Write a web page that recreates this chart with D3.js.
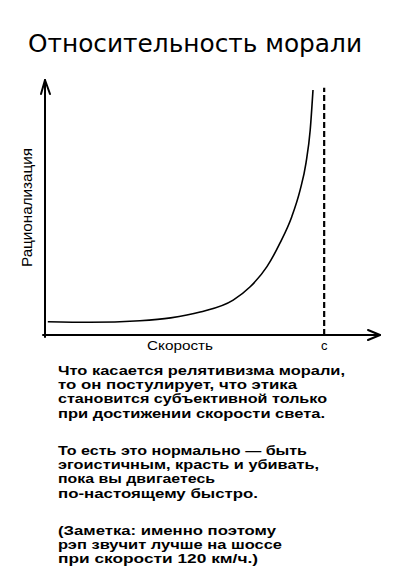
<!DOCTYPE html>
<html><head><meta charset="utf-8">
<script src="https://cdn.jsdelivr.net/npm/d3@7"></script>
<style>html,body{margin:0;padding:0;background:#fff;}svg{display:block;}</style>
</head><body>
<script>
const title = "Относительность морали";
const xLabel = "Скорость";
const yLabel = "Рационализация";
const cLabel = "c";
// speed as fraction of c, rationalization (arbitrary units 0-100)
const speed = [0.01, 0.16, 0.34, 0.45, 0.556, 0.674, 0.735, 0.795, 0.842, 0.884, 0.914, 0.935, 0.95, 0.96];
const rationalization = [5.2, 5.0, 5.6, 6.7, 9.0, 13.7, 18.9, 26.8, 36.1, 46.4, 56.9, 67.5, 80.4, 96.1];
const cValue = 1;
const paragraphs = [
  ["Что касается релятивизма морали,", "то он постулирует, что этика", "становится субъективной только", "при достижении скорости света."],
  ["То есть это нормально — быть", "эгоистичным, красть и убивать,", "пока вы двигаетесь", "по-настоящему быстро."],
  ["(Заметка: именно поэтому", "рэп звучит лучше на шоссе", "при скорости 120 км/ч.)"]
];
const lineWidths = [[287, 239, 269, 267], [249, 261, 157, 200], [218, 224, 200]];

const W = 400, H = 575;
const svg = d3.select("body").append("svg").attr("width", W).attr("height", H);

const x = d3.scaleLinear().domain([0, 1.2]).range([45, 380]);
const y = d3.scaleLinear().domain([0, 100]).range([335, 80]);

svg.append("text").attr("x", 28).attr("y", 52)
  .attr("font-family", "DejaVu Sans").attr("font-size", 24)
  .attr("textLength", 334).attr("lengthAdjust", "spacingAndGlyphs")
  .attr("fill", "#000").text(title);

const axisStyle = g => g.attr("stroke", "#000").attr("stroke-width", 2).attr("fill", "none")
  .attr("stroke-linecap", "round").attr("stroke-linejoin", "round");

// y axis
svg.append("path").call(axisStyle)
  .attr("d", `M${x(0)},${y(0) + 2}L${x(0)},${y(100)}`);
svg.append("path").call(axisStyle)
  .attr("d", `M${x(0) - 4},${y(100) + 14}L${x(0)},${y(100)}L${x(0) + 5},${y(100) + 14}`);
// x axis
svg.append("path").call(axisStyle)
  .attr("d", `M${x(0) - 2},${y(0)}L${x(1.2)},${y(0)}`);
svg.append("path").call(axisStyle)
  .attr("d", `M${x(1.2) - 12},${y(0) - 5}L${x(1.2)},${y(0)}L${x(1.2) - 12},${y(0) + 5}`);

// c dashed line
svg.append("line")
  .attr("x1", x(cValue)).attr("x2", x(cValue))
  .attr("y1", y(0)).attr("y2", y(97))
  .attr("stroke", "#000").attr("stroke-width", 2.2).attr("stroke-dasharray", "6,3");

// curve
const line = d3.line().x((d, i) => x(speed[i])).y(d => y(d)).curve(d3.curveMonotoneX);
svg.append("path").attr("d", line(rationalization))
  .attr("fill", "none").attr("stroke", "#000").attr("stroke-width", 1.6);

// axis labels
svg.append("text").attr("x", 147).attr("y", 350)
  .attr("font-family", "Liberation Sans").attr("font-size", 13)
  .attr("textLength", 66).attr("lengthAdjust", "spacingAndGlyphs").text(xLabel);
svg.append("text").attr("x", x(cValue)).attr("y", 350).attr("text-anchor", "middle")
  .attr("font-family", "Liberation Sans").attr("font-size", 13).text(cLabel);
svg.append("text").attr("transform", "translate(32,267) rotate(-90)")
  .attr("font-family", "Liberation Sans").attr("font-size", 14)
  .attr("textLength", 119).attr("lengthAdjust", "spacingAndGlyphs").text(yLabel);

// paragraphs
const paraStart = [375, 455, 535];
const lh = 14.2;
paragraphs.forEach((p, pi) => {
  p.forEach((ln, li) => {
    svg.append("text").attr("x", 58).attr("y", paraStart[pi] + li * lh)
      .attr("font-family", "Liberation Sans").attr("font-weight", 700).attr("font-size", 13.5)
      .attr("textLength", lineWidths[pi][li]).attr("lengthAdjust", "spacingAndGlyphs")
      .attr("fill", "#000").text(ln);
  });
});
</script>
</body></html>
